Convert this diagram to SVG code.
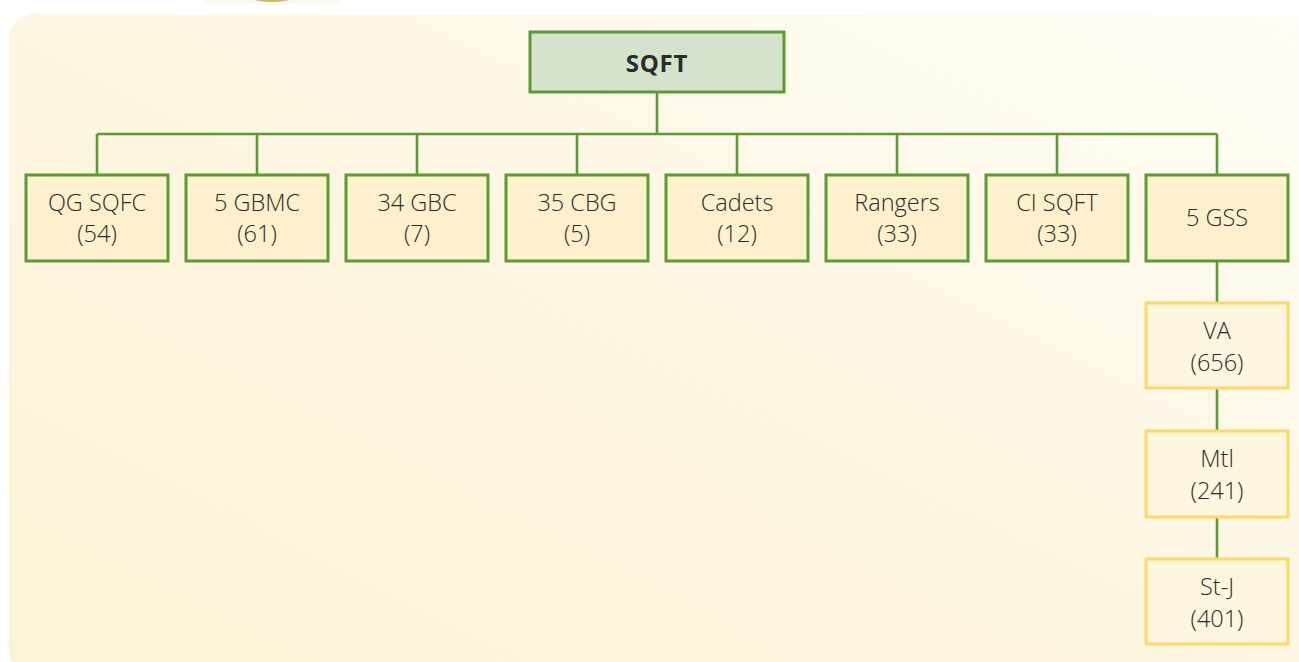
<svg xmlns="http://www.w3.org/2000/svg" width="1299" height="662" viewBox="0 0 1299 662">
<defs>
<linearGradient id="bg" x1="0" y1="1" x2="1" y2="0">
<stop offset="0" stop-color="#fdf2d4"/>
<stop offset="0.5" stop-color="#fdf6e2"/>
<stop offset="1" stop-color="#fffdf6"/>
</linearGradient>
<style>
.t{font-family:"Open Sans","Noto Sans","Liberation Sans",sans-serif;font-size:23.5px;font-weight:300;fill:#2b2b2b;text-anchor:middle}
.b{font-weight:bold;font-size:24px;letter-spacing:0.8px}
.top{fill:#d5e3cc;stroke:#5b9a34;stroke-width:3}
.l2{fill:#fdf0cc;stroke:#5b9a34;stroke-width:3}
.l3{fill:#fdf5dd;stroke:#fdd966;stroke-width:3}
.c{stroke:#5b9a34;stroke-width:2.6;fill:none}
</style>
</defs>
<rect x="0" y="0" width="1299" height="662" fill="#ffffff"/>
<rect x="205" y="0" width="135" height="5" fill="#fbf9f4"/>
<ellipse cx="272" cy="-3" rx="22" ry="5" fill="#c9b866"/>
<rect x="9" y="14" width="1300" height="660" rx="25" fill="url(#bg)"/>
<g id="connectors">
<path class="c" d="M657 93V134M97 134H1217M97 134V175M257 134V175M417 134V175M577 134V175M737 134V175M897 134V175M1057 134V175M1217 134V175M1217 261V303M1217 388V431M1217 517V559"/>
</g>
<g id="n-sqft"><rect class="top" x="530" y="32" width="254" height="60"/><text class="t b" x="657" y="72">SQFT</text></g>
<g id="n-qgsqfc"><rect class="l2" x="26" y="175" width="142" height="86"/><text class="t" x="97" y="211">QG SQFC</text><text class="t" x="97" y="242">(54)</text></g>
<g id="n-5gbmc"><rect class="l2" x="186" y="175" width="142" height="86"/><text class="t" x="257" y="211">5 GBMC</text><text class="t" x="257" y="242">(61)</text></g>
<g id="n-34gbc"><rect class="l2" x="346" y="175" width="142" height="86"/><text class="t" x="417" y="211">34 GBC</text><text class="t" x="417" y="242">(7)</text></g>
<g id="n-35cbg"><rect class="l2" x="506" y="175" width="142" height="86"/><text class="t" x="577" y="211">35 CBG</text><text class="t" x="577" y="242">(5)</text></g>
<g id="n-cadets"><rect class="l2" x="666" y="175" width="142" height="86"/><text class="t" x="737" y="211">Cadets</text><text class="t" x="737" y="242">(12)</text></g>
<g id="n-rangers"><rect class="l2" x="826" y="175" width="142" height="86"/><text class="t" x="897" y="211">Rangers</text><text class="t" x="897" y="242">(33)</text></g>
<g id="n-cisqft"><rect class="l2" x="986" y="175" width="142" height="86"/><text class="t" x="1057" y="211">CI SQFT</text><text class="t" x="1057" y="242">(33)</text></g>
<g id="n-5gss"><rect class="l2" x="1146" y="175" width="142" height="86"/><text class="t" x="1217" y="226">5 GSS</text></g>
<g id="n-va"><rect class="l3" x="1146" y="303" width="142" height="85"/><text class="t" x="1217" y="339">VA</text><text class="t" x="1217" y="371">(656)</text></g>
<g id="n-mtl"><rect class="l3" x="1146" y="431" width="142" height="86"/><text class="t" x="1217" y="467">Mtl</text><text class="t" x="1217" y="499">(241)</text></g>
<g id="n-stj"><rect class="l3" x="1146" y="559" width="142" height="85"/><text class="t" x="1217" y="595">St-J</text><text class="t" x="1217" y="627">(401)</text></g>
</svg>
